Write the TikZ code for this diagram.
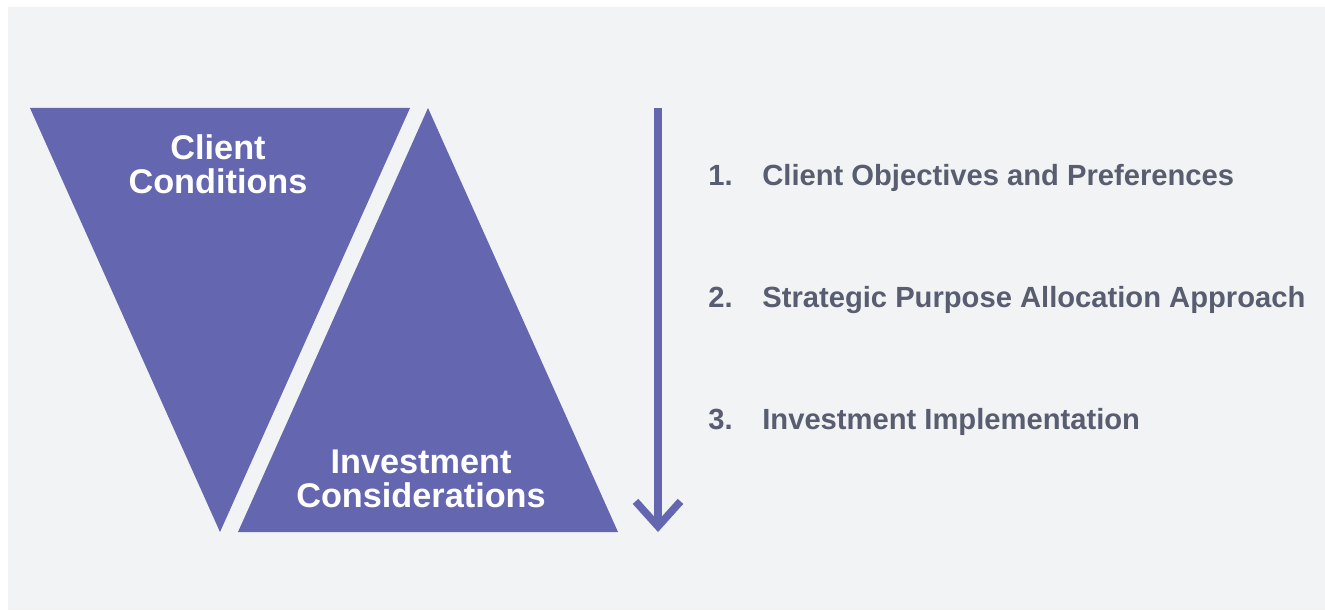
\documentclass[tikz,border=0pt]{standalone}
\usepackage{fontspec}
\setmainfont{Liberation Sans}
\usepackage{xcolor}
\usepackage{tikz}
\usetikzlibrary{arrows.meta,positioning,calc}

\definecolor{bgGray}{RGB}{242,243,245}
\definecolor{tri}{RGB}{100,102,176}
\definecolor{txtGray}{RGB}{88,94,112}

\begin{document}
\begin{tikzpicture}[
    tri/.style = {fill=tri, draw=none},
    label/.style = {text=white, font=\fontsize{19.5}{19.3}\selectfont\bfseries, align=center, inner sep=0pt},
    item/.style = {text=txtGray, font=\fontsize{16.6}{20}\selectfont\bfseries, anchor=base west, inner sep=0pt}
  ]
  % background and frame
  \fill[white] (0,0) rectangle (26.5,12.2);
  \fill[bgGray] (0.16,0) rectangle (26.5,12.06);
  \useasboundingbox (0,0) rectangle (26.5,12.2);

  % the two triangles
  \coordinate (ltl) at (0.6,10.04);
  \coordinate (ltr) at (8.2,10.04);
  \coordinate (lb) at (4.4,1.56);
  \coordinate (rt) at (8.56,10.04);
  \coordinate (rbl) at (4.76,1.56);
  \coordinate (rbr) at (12.36,1.56);
  \fill[tri] (ltl) -- (ltr) -- (lb) -- cycle;
  \fill[tri] (rt) -- (rbr) -- (rbl) -- cycle;

  \node[label] (client) at (4.36,8.92) {Client\\Conditions};
  \node[label] (invest) at (8.42,2.62) {Investment\\Considerations};

  % arrow
  \coordinate (astart) at (13.16,10.04);
  \coordinate (aend) at (13.16,1.56);
  \draw[draw=tri, line width=0.15cm, -{Straight Barb[length=5mm,width=9mm]}] (astart) -- (aend);

  % steps
  \node[item] (n1) at (14.16,8.5) {1.};
  \node[item] (t1) at (15.24,8.5) {Client Objectives and Preferences};
  \node[item] (n2) at (14.16,6.06) {2.};
  \node[item] (t2) at (15.24,6.06) {Strategic Purpose Allocation Approach};
  \node[item] (n3) at (14.16,3.62) {3.};
  \node[item] (t3) at (15.24,3.62) {Investment Implementation};
\end{tikzpicture}
\end{document}
